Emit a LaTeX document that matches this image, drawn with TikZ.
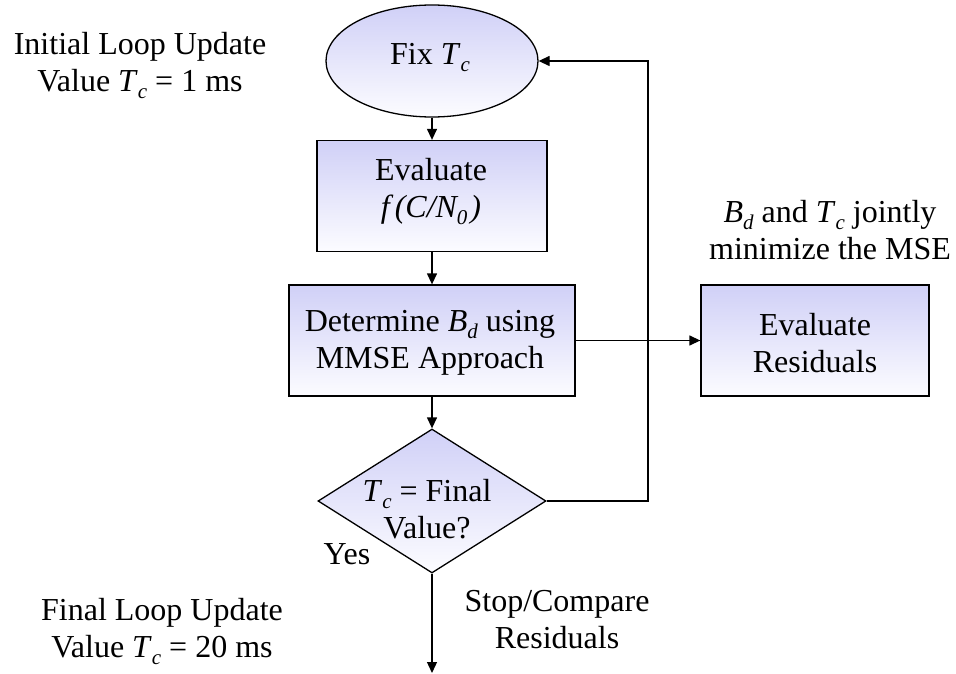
\documentclass[tikz,border=0pt]{standalone}
\usepackage{fontspec}
\setmainfont{Liberation Serif}
\usetikzlibrary{shapes.geometric,arrows.meta}
\newcommand\subi[2]{\textit{#1}\raisebox{-7pt}{\fontsize{21}{21}\selectfont\textit{#2}}}
\begin{document}
\begin{tikzpicture}[x=1pt,y=-1pt,
  every node/.style={font=\fontsize{32}{37}\selectfont, align=center},
  filled/.style={draw=black, line width=1.3pt, top color={rgb,255:red,208;green,208;blue,247}, bottom color={rgb,255:red,252;green,252;blue,255}, inner sep=0pt},
  boxnode/.style={filled, rectangle, minimum height=111pt},
  arr/.style={line width=1.3pt, -{Triangle[length=11pt,width=10pt]}},
  lbl/.style={inner sep=0pt}
]
\path[use as bounding box, fill=white] (0,0) rectangle (956,674);

\node[filled, ellipse, minimum width=212pt, minimum height=112pt] (fix) at (432,61) {};
\node[lbl] (fixtext) at (430,57.5) {Fix \subi{T}{c}};

\node[boxnode, minimum width=230pt] (eval) at (432,196) {};
\node[lbl] (evaltext) at (431,192) {Evaluate\\\textit{f\kern5pt(C/N\raisebox{-7pt}{\fontsize{21}{21}\selectfont 0}\kern3pt)}};
\node[boxnode, minimum width=286pt] (det) at (432,340.5) {};
\node[lbl] (dettext) at (430,343) {Determine \subi{B}{d} using\\MMSE Approach};
\node[boxnode, minimum width=228pt] (res) at (815,340.5) {};
\node[lbl] (restext) at (815,343) {Evaluate\\Residuals};

\node[filled, diamond, minimum width=228pt, minimum height=144pt] (dec) at (432,501) {};
\node[lbl] (dectext) at (427,509) {\subi{T}{c} = Final\\Value?};

\coordinate (loop) at (648,61);
\coordinate (stop) at (432,673);

\draw[arr] (fix.south) -- (eval.north);
\draw[arr] (eval.south) -- (det.north);
\draw[arr] (det.south) -- (dec.north);
\draw[arr] (det.east) -- (res.west);
\draw[arr] (dec.east) -| (loop) -- (fix.east);
\draw[arr] (dec.south) -- (stop);

\node[lbl] (init) at (140,66) {Initial Loop Update\\Value \subi{T}{c} = 1 ms};
\node[lbl] (final) at (162,631) {Final Loop Update\\Value \subi{T}{c} = 20 ms};
\node[lbl] (joint) at (830,230) {\subi{B}{d} and \subi{T}{c} jointly\\minimize the MSE};
\node[lbl] (stoptxt) at (557,620) {Stop/Compare\\Residuals};
\node[lbl] (yes) at (347,554) {Yes};
\end{tikzpicture}
\end{document}
